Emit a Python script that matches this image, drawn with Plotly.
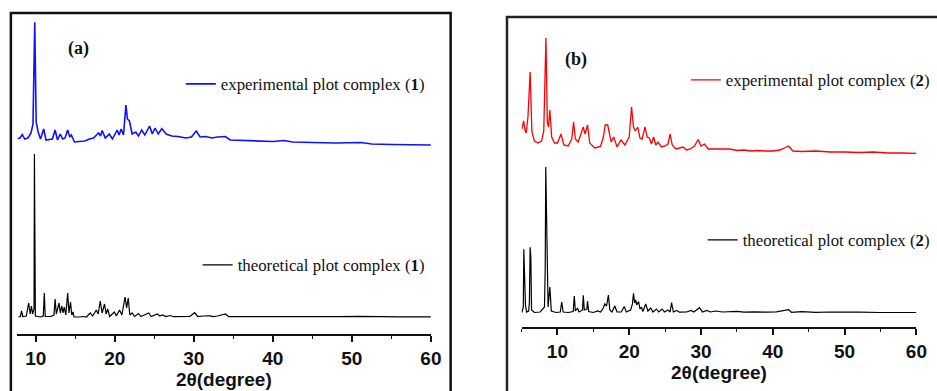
import plotly.graph_objects as go

W, H = 937, 391

# ---------------- data (arbitrary intensity units, stacked) ----------------
# Panel (a): complex (1)
exp1_x = [7.7, 8.0, 8.3, 8.6, 9.0, 9.4, 9.65, 9.87, 10.05, 10.3, 10.6, 11.0, 11.3, 11.8, 12.1, 12.45,
          12.75, 13.1, 13.4, 13.7, 14.04, 14.3, 14.5, 14.9, 15.5, 16.2, 16.8, 17.3, 17.95, 18.2, 18.4,
          18.8, 19.3, 19.7, 20.3, 20.55, 20.8, 21.1, 21.41, 21.6, 21.85, 22.2, 22.66, 23.0, 23.4, 23.8,
          24.4, 24.75, 25.1, 25.5, 25.95, 26.5, 27.2, 28.0, 29.0, 29.7, 30.3, 30.8, 31.5, 32.3, 33.0,
          34.0, 34.6, 36.0, 38.0, 40.0, 41.4, 42.5, 45.0, 48.0, 51.2, 52.5, 55.0, 58.0, 60.0]
exp1_y = [195.5, 196, 199.5, 195, 196, 201, 210, 311.7, 212, 202, 195, 205, 194, 194.5, 195, 204,
          194, 200, 195, 196, 204, 197, 199, 192, 192.5, 193, 195, 196, 201, 198, 203.5,
          196, 200, 195, 204, 199, 205, 199, 229, 215, 213, 200, 202, 198, 204, 199,
          208, 200, 206, 200, 205.5, 200, 198, 197.5, 196, 197, 203, 197, 197.5, 196, 197,
          197.5, 194, 193.5, 193, 192.5, 193.5, 192, 191.5, 191, 191.5, 190, 189.5, 189, 189]

theo1_x = [7.8, 8.05, 8.2, 8.35, 8.8, 9.1, 9.3, 9.45, 9.6, 9.78, 9.83, 9.86, 9.9, 9.95, 10.6, 10.95,
           11.08, 11.2, 11.9, 12.3, 12.45, 12.6, 12.95, 13.1, 13.3, 13.45, 13.6, 13.8, 14.04, 14.2,
           14.4, 14.55, 14.7, 14.85, 15.5, 16.0, 16.4, 16.9, 17.2, 17.66, 17.9, 18.16, 18.4, 18.7,
           18.9, 19.1, 19.35, 19.95, 20.2, 20.6, 20.9, 21.3, 21.5, 21.7, 21.9, 22.2, 22.5, 23.0,
           23.3, 24.3, 24.6, 25.4, 25.7, 26.0, 26.5, 27.0, 27.5, 28.5, 29.5, 30.1, 30.5, 31.2,
           32.0, 32.5, 33.0, 34.0, 34.4, 36.0, 38.0, 40.0, 41.0, 43.0, 45.0, 48.0, 51.0, 53.0,
           56.0, 60.0]
theo1_y = [17, 17.5, 23, 17.5, 18, 31, 20, 28, 20, 25, 180, 95, 88, 18, 17, 18,
           41, 17.5, 17.5, 19, 35, 20, 31, 21, 28, 21, 27, 19, 41, 21,
           32, 19, 22, 17, 17, 17.5, 17, 21, 18, 24, 20, 33, 21, 30,
           20, 25, 17.5, 22, 18, 24, 19, 37, 26, 36, 19, 21, 17.5, 20.5,
           17.5, 21, 17.5, 20, 18, 19, 17.5, 18.5, 17.3, 17.5, 17.5, 21.3, 17.5, 18,
           18.2, 17.4, 18, 20, 17.3, 17.4, 17.3, 17.5, 17.8, 17.4, 17.3, 17.3, 17.6, 17.2,
           17.2, 17.2]

# Panel (b): complex (2)
exp2_x = [5.05, 5.3, 5.5, 5.65, 5.9, 6.2, 6.45, 6.8, 7.3, 7.8, 8.1, 8.4, 8.6, 8.75, 8.95, 9.2, 9.6,
          10.0, 10.5, 10.9, 11.5, 12.0, 12.25, 12.5, 12.9, 13.3, 13.6, 13.85, 14.2, 14.5, 15.2, 16.0,
          16.4, 16.66, 17.0, 17.5, 17.85, 18.3, 18.85, 19.4, 20.0, 20.33, 20.6, 20.85, 21.2, 21.5,
          21.8, 22.2, 22.5, 22.8, 23.1, 23.4, 23.7, 24.0, 24.5, 25.0, 25.4, 25.7, 26.0, 26.5, 27.0,
          27.5, 28.0, 28.5, 29.1, 29.6, 30.0, 30.5, 31.0, 32.0, 33.0, 34.0, 35.0, 36.0, 37.0, 38.0,
          39.0, 40.0, 41.0, 42.2, 42.8, 44.0, 46.0, 48.0, 50.0, 52.0, 54.0, 56.0, 58.0, 60.0]
exp2_y = [198, 206, 197, 194, 210, 255, 195, 186, 184, 186, 196, 289, 205, 200, 217, 190, 184,
          184, 193, 182, 181, 188, 205, 188, 185, 194, 200, 193, 202, 184, 179, 180.5,
          190, 202, 202, 185, 190, 180, 187, 182, 190, 220, 200, 196, 200, 189,
          188, 200, 190, 189, 183, 190, 182, 185, 180, 181, 183, 193, 182, 178, 179,
          180, 177, 178, 181, 187.5, 181, 183, 178, 178, 177.5, 178, 176.5, 177, 176, 176.5,
          176, 176, 177, 181, 176, 175.5, 176, 175, 175, 174.5, 175, 174, 174, 173.7]

theo2_x = [5.05, 5.25, 5.32, 5.45, 5.55, 5.7, 6.0, 6.1, 6.2, 6.3, 6.4, 6.8, 7.6, 8.2, 8.3, 8.38, 8.45,
           8.55, 8.7, 8.95, 9.15, 9.8, 10.4, 10.6, 10.8, 11.5, 12.2, 12.35, 12.5, 12.8, 13.0, 13.5,
           13.6, 13.75, 14.1, 14.2, 14.35, 15.0, 15.6, 16.0, 16.4, 16.6, 16.85, 17.1, 17.3, 17.6,
           18.0, 18.3, 18.9, 19.3, 19.6, 20.2, 20.45, 20.6, 20.75, 20.9, 21.05, 21.3, 21.5, 21.7,
           21.9, 22.3, 22.6, 23.0, 23.3, 23.8, 24.1, 24.6, 24.9, 25.4, 25.7, 25.9, 26.15, 26.6,
           27.0, 28.0, 28.6, 29.0, 29.8, 30.2, 30.8, 31.3, 32.0, 33.0, 34.0, 35.0, 36.0, 37.5,
           39.0, 40.5, 42.2, 42.6, 44.0, 46.0, 48.0, 50.0, 52.0, 55.0, 58.0, 60.0]
theo2_y = [14.5, 20, 77.7, 30, 22, 15, 16, 25, 79.7, 70, 17, 14.5, 15, 20, 57, 160, 125,
           70, 20, 40, 16, 14.5, 15, 25, 15, 14.5, 15.5, 31, 16, 19, 15, 17,
           31.7, 17, 18, 26, 15.5, 14.5, 16, 15, 19, 23, 21, 32, 17, 15,
           21, 15, 15, 20.5, 15, 17, 23, 33.7, 24, 27, 22, 25.5, 18, 20,
           15.5, 23, 16, 19, 15, 18, 15, 18, 15, 17, 15, 24.3, 15, 16.5,
           14.8, 15, 16.5, 15, 19.3, 15, 16.5, 15, 16, 15, 15.5, 15.6, 14.8, 15.2,
           14.8, 15.1, 17.3, 14.7, 15.3, 14.7, 15, 14.6, 14.8, 14.5, 14.5, 14.5]

tick_vals = [10, 20, 30, 40, 50, 60]
tick_text = ["10", "20", "30", "40", "50", "60"]
axis_title = "2θ(degree)"
legend_names = ["experimental plot complex (<b>1</b>)", "theoretical plot complex (<b>1</b>)",
                "experimental plot complex (<b>2</b>)", "theoretical plot complex (<b>2</b>)"]
panel_labels = ["(a)", "(b)"]

# ---------------- figure ----------------
def px(v):
    return v / W

def py(v):
    return 1 - v / H

fig = go.Figure()
fig.add_trace(go.Scatter(x=exp1_x, y=exp1_y, mode="lines", name=legend_names[0], showlegend=True,
                         line=dict(color="#1010ff", width=1.6), xaxis="x", yaxis="y", legend="legend"))
fig.add_trace(go.Scatter(x=theo1_x, y=theo1_y, mode="lines", name=legend_names[1], showlegend=True,
                         line=dict(color="#000000", width=1.2), xaxis="x", yaxis="y", legend="legend2"))
fig.add_trace(go.Scatter(x=exp2_x, y=exp2_y, mode="lines", name=legend_names[2], showlegend=True,
                         line=dict(color="#ff0000", width=1.3), xaxis="x2", yaxis="y2", legend="legend3"))
fig.add_trace(go.Scatter(x=theo2_x, y=theo2_y, mode="lines", name=legend_names[3], showlegend=True,
                         line=dict(color="#000000", width=1.2), xaxis="x2", yaxis="y2", legend="legend4"))

xcommon = dict(showline=True, linecolor="#111", linewidth=2, ticks="outside", ticklen=6,
               tickwidth=1.5, tickcolor="#111", tickvals=tick_vals, ticktext=tick_text,
               tickfont=dict(family="Liberation Sans, Arial", size=19, color="#111", weight="bold"),
               showgrid=False, zeroline=False,
               minor=dict(dtick=5, tick0=0, ticks="outside", ticklen=3, tickwidth=1.2, tickcolor="#111"),
               title=dict(text=axis_title, font=dict(family="Liberation Sans, Arial", size=19,
                                                     color="#111", weight="bold"), standoff=0))

leg_font = dict(family="Liberation Serif, Times New Roman", size=16.8, color="#111")
def leg(x, y):
    return dict(x=px(x), y=py(y), xanchor="left", yanchor="middle", bgcolor="rgba(0,0,0,0)",
                borderwidth=0, font=leg_font, itemwidth=30, visible=True)

fig.update_layout(
    width=W, height=H, margin=dict(l=0, r=0, t=0, b=0), showlegend=True,
    paper_bgcolor="white", plot_bgcolor="white",
    xaxis=dict(domain=[px(17), px(436)], range=[7.6, 60], anchor="y", **xcommon),
    yaxis=dict(domain=[py(334), py(14)], range=[0, 320], visible=False, anchor="x"),
    xaxis2=dict(domain=[px(527.7), px(927.3)], range=[5, 60], anchor="y2", **xcommon),
    yaxis2=dict(domain=[py(327), py(20)], range=[0, 307], visible=False, anchor="x2"),
    legend=leg(183, 84), legend2=leg(200, 265), legend3=leg(694, 80), legend4=leg(711, 240),
    shapes=[
        dict(type="rect", xref="paper", yref="paper", x0=px(11), x1=px(456), y0=-0.2, y1=py(13),
             line=dict(color="#111", width=2.5), fillcolor="rgba(0,0,0,0)", layer="below"),
        dict(type="rect", xref="paper", yref="paper", x0=px(513), x1=1.1, y0=-0.2, y1=py(17),
             line=dict(color="#222", width=2.5), fillcolor="rgba(0,0,0,0)", layer="below"),
    ],
    annotations=[
        dict(text="<b>" + panel_labels[0] + "</b>", xref="paper", yref="paper", x=px(67), y=py(36),
             showarrow=False, font=dict(family="Liberation Serif, Times New Roman", size=18, color="#111")),
        dict(text="<b>" + panel_labels[1] + "</b>", xref="paper", yref="paper", x=px(583), y=py(47),
             showarrow=False, font=dict(family="Liberation Serif, Times New Roman", size=18, color="#111")),
    ],
)

fig.write_html("out.html")
